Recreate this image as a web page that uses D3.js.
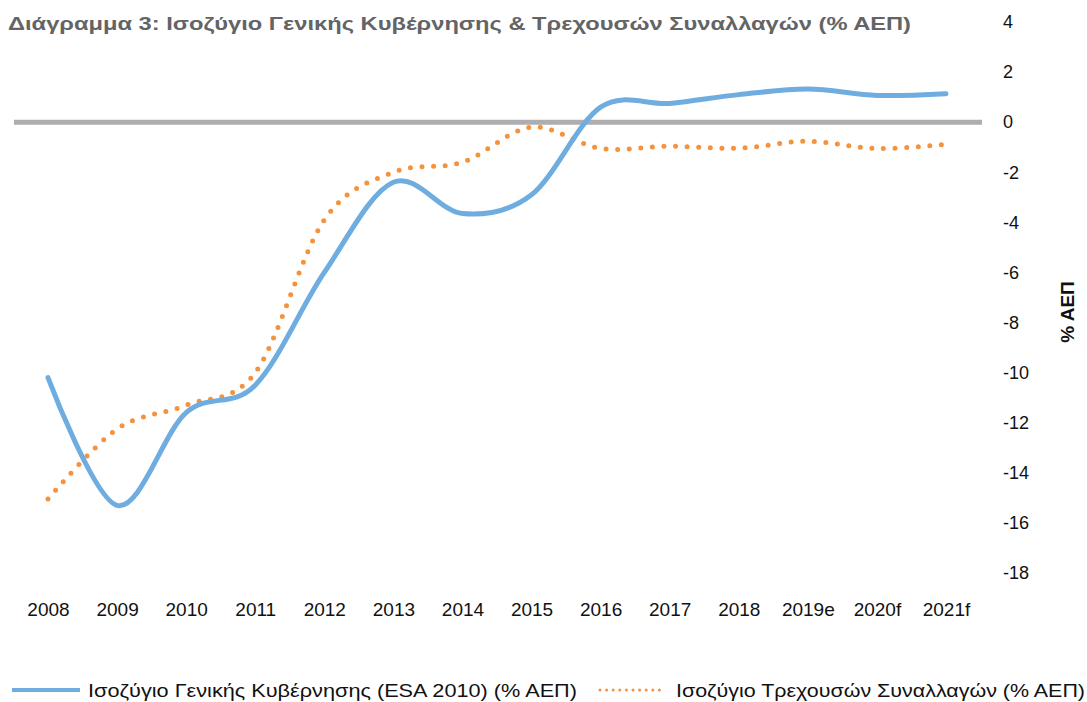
<!DOCTYPE html>
<html>
<head>
<meta charset="utf-8">
<script src="https://cdn.jsdelivr.net/npm/d3@7"></script>
<style>
  body { margin: 0; background: #fff; }
  svg { font-family: "Liberation Sans", Arial, sans-serif; display: block; }
</style>
</head>
<body>
<svg id="chart" width="1087" height="702"></svg>
<script>
"use strict";
(function () {
  const years = ["2008", "2009", "2010", "2011", "2012", "2013", "2014",
    "2015", "2016", "2017", "2018", "2019e", "2020f", "2021f"];
  // Ισοζύγιο Γενικής Κυβέρνησης (ESA 2010)
  const govBalance = [-10.2, -15.3, -11.6, -10.5, -6.0, -2.4, -3.65,
    -2.9, 0.6, 0.75, 1.1, 1.32, 1.07, 1.14];
  // Ισοζύγιο Τρεχουσών Συναλλαγών
  const currentAccount = [-15.05, -12.25, -11.3, -10.0, -3.9, -2.0, -1.6,
    -0.2, -1.05, -0.96, -1.04, -0.76, -1.05, -0.88];
  const yTicks = [4, 2, 0, -2, -4, -6, -8, -10, -12, -14, -16, -18];

  const title = "Διάγραμμα 3: Ισοζύγιο Γενικής Κυβέρνησης & Τρεχουσών Συναλλαγών (% ΑΕΠ)";
  const series = [
    { name: "Ισοζύγιο Γενικής Κυβέρνησης (ESA 2010) (% ΑΕΠ)", values: govBalance, color: "#6fade0", dash: null },
    { name: "Ισοζύγιο Τρεχουσών Συναλλαγών (% ΑΕΠ)", values: currentAccount, color: "#f5923e", dash: "0 11.6" },
  ];

  const svg = d3.select("#chart");

  const x = d3.scalePoint().domain(years).range([48, 946]);
  const y = d3.scaleLinear().domain([-18, 4]).range([573, 22]);

  // title
  svg.append("text")
    .attr("x", 8).attr("y", 30)
    .attr("font-size", 19).attr("font-weight", "bold")
    .attr("fill", "#636466")
    .attr("textLength", 903).attr("lengthAdjust", "spacingAndGlyphs")
    .text(title);

  // right axis labels
  const yAxis = svg.append("g").attr("transform", "translate(1003,0)")
    .call(d3.axisRight(y).tickValues(yTicks).tickSize(0).tickPadding(0).tickFormat((d) => String(d)));
  yAxis.select(".domain").remove();
  yAxis.selectAll("text")
    .attr("font-family", "Liberation Sans, Arial, sans-serif")
    .attr("font-size", 18).attr("fill", "#111");

  svg.append("text")
    .attr("transform", "translate(1074,312) rotate(-90)")
    .attr("text-anchor", "middle")
    .attr("font-size", 19).attr("font-weight", "bold").attr("fill", "#111")
    .text("% ΑΕΠ");

  // x labels
  const xAxis = svg.append("g").attr("transform", "translate(0,602)")
    .call(d3.axisBottom(x).tickSize(0).tickPadding(0));
  xAxis.select(".domain").remove();
  xAxis.selectAll("text")
    .attr("font-family", "Liberation Sans, Arial, sans-serif")
    .attr("font-size", 19).attr("fill", "#111");

  // zero line
  svg.append("line")
    .attr("x1", 14).attr("x2", 982)
    .attr("y1", y(0)).attr("y2", y(0))
    .attr("stroke", "#aeaeb1").attr("stroke-width", 5);

  const line = d3.line()
    .x((d, i) => x(years[i]))
    .y((d) => y(d))
    .curve(d3.curveCardinal.tension(0));

  svg.selectAll(".series")
    .data(series.slice().reverse())
    .join("path")
    .attr("class", "series")
    .attr("d", (d) => line(d.values))
    .attr("fill", "none")
    .attr("stroke", (d) => d.color)
    .attr("stroke-width", 5)
    .attr("stroke-linecap", "round")
    .attr("stroke-dasharray", (d) => d.dash);

  // legend
  const legendItems = [
    { lx: 12, tx: 88, tw: 489 },
    { lx: 600, tx: 676, tw: 409 },
  ];
  const legend = svg.append("g").selectAll("g")
    .data(series)
    .join("g");
  legend.append("line")
    .attr("x1", (d, i) => legendItems[i].lx)
    .attr("x2", (d, i) => legendItems[i].lx + (d.dash ? 60 : 68))
    .attr("y1", 690).attr("y2", 690)
    .attr("stroke", (d) => d.color)
    .attr("stroke-width", (d) => (d.dash ? 3 : 4))
    .attr("stroke-linecap", (d) => (d.dash ? "round" : "butt"))
    .attr("stroke-dasharray", (d) => (d.dash ? "0 6.6" : null));
  legend.append("text")
    .attr("x", (d, i) => legendItems[i].tx)
    .attr("y", 697)
    .attr("font-size", 18).attr("fill", "#111")
    .attr("textLength", (d, i) => legendItems[i].tw)
    .attr("lengthAdjust", "spacingAndGlyphs")
    .text((d) => d.name);
})();
</script>
</body>
</html>
